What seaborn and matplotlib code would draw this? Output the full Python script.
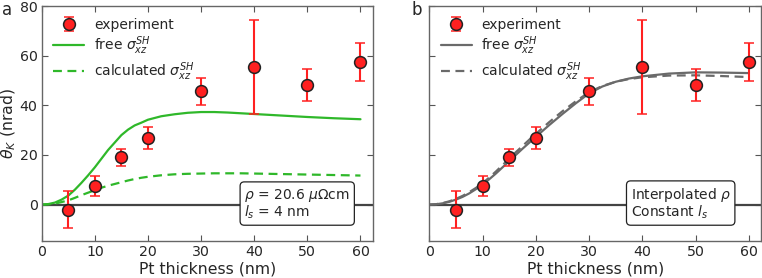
import numpy as np
import pandas as pd
import matplotlib
matplotlib.use("Agg")
import matplotlib.pyplot as plt
import seaborn as sns

# Experimental data
thickness = [5, 10, 15, 20, 30, 40, 50, 60]
theta_k = [-2.0, 7.5, 19.0, 26.8, 45.6, 55.6, 48.1, 57.5]
theta_err = [7.5, 3.9, 3.5, 4.3, 5.5, 19.0, 6.4, 7.5]

# Model curves
curve_x = [0, 1.25, 2.5, 3.75, 5, 6.25, 7.5, 8.75, 10, 11.25, 12.5, 13.75, 15,
           16.25, 17.5, 18.75, 20, 22.5, 25, 27.5, 30, 32.5, 35, 37.5, 40,
           45, 50, 55, 60]
a_free = [0, 0.2, 0.8, 2.0, 3.6, 6.0, 8.8, 11.8, 15.0, 18.5, 22.0, 25.0, 28.0,
          30.2, 31.9, 33.0, 34.2, 35.6, 36.4, 37.0, 37.3, 37.3, 37.1, 36.8, 36.5,
          35.9, 35.3, 34.8, 34.4]
a_calc = [0, 0.1, 0.4, 1.0, 1.7, 2.7, 3.8, 4.8, 5.8, 6.8, 7.6, 8.3, 9.0,
          9.7, 10.3, 10.8, 11.2, 11.8, 12.2, 12.4, 12.5, 12.6, 12.6, 12.6, 12.5,
          12.3, 12.1, 11.9, 11.7]
b_free = [0, 0.1, 0.5, 1.1, 2.0, 3.1, 4.5, 6.2, 8.0, 10.2, 12.5, 15.0, 17.5,
          20.0, 22.5, 24.9, 27.3, 32.0, 36.5, 40.8, 44.8, 47.6, 49.5, 50.8, 51.7,
          52.8, 53.3, 53.2, 53.0]
b_calc = [0, 0.15, 0.6, 1.3, 2.3, 3.5, 5.0, 6.7, 8.6, 10.9, 13.3, 15.9, 18.5,
          21.1, 23.6, 26.1, 28.5, 33.2, 37.6, 41.6, 45.3, 47.8, 49.5, 50.6, 51.3,
          52.0, 52.1, 51.8, 51.4]

xticks = [0, 10, 20, 30, 40, 50, 60]
yticks = [0, 20, 40, 60, 80]

sns.set_theme(style="white")
plt.rcParams['font.family'] = ['DejaVu Sans']
plt.rcParams['mathtext.fontset'] = 'dejavusans'

fig = plt.figure(figsize=(7.62, 2.78), dpi=100)
ax_a = fig.add_axes([0.0547, 0.133, 0.4344, 0.845])
ax_b = fig.add_axes([0.5634, 0.133, 0.4353, 0.845])

green = '#2fb82a'
gray = '#6a6a6a'

def panel(ax, free, calc, color, boxtext, boxpos, letter, letterx, ylabels):
    ax.axhline(0, color='#444444', lw=1.6, zorder=1)
    df = pd.DataFrame({'x': curve_x, 'free': free, 'calc': calc})
    sns.lineplot(data=df, x='x', y='free', ax=ax, color=color, lw=1.6,
                 label=r'free $\sigma_{xz}^{SH}$', zorder=2)
    sns.lineplot(data=df, x='x', y='calc', ax=ax, color=color, lw=1.6,
                 linestyle=(0, (4, 2.5)), label=r'calculated $\sigma_{xz}^{SH}$', zorder=2)
    ax.errorbar(thickness, theta_k, yerr=theta_err, fmt='o', color='#ff2020',
                ecolor='#ff2020', elinewidth=1.5, capsize=3.8, capthick=1.3,
                markersize=8.5, markeredgecolor='#222222', markeredgewidth=1.1,
                label='experiment', zorder=3)
    h, l = ax.get_legend_handles_labels()
    order = [l.index('experiment'), l.index(r'free $\sigma_{xz}^{SH}$'),
             l.index(r'calculated $\sigma_{xz}^{SH}$')]
    ax.legend([h[i] for i in order], [l[i] for i in order], loc='upper left',
              frameon=False, fontsize=10, handlelength=2.2, borderaxespad=0.45,
              labelspacing=0.2, handletextpad=0.7, bbox_to_anchor=(0.0, 1.0))
    ax.set_xlim(0, 62.3)
    ax.set_ylim(-14.7, 80)
    ax.set_xticks(xticks)
    ax.set_yticks(yticks)
    ax.set_xlabel('Pt thickness (nm)', fontsize=11.3, labelpad=2)
    if ylabels:
        ax.set_ylabel(r'$\theta_K$ (nrad)', fontsize=11.3, labelpad=1)
    else:
        ax.set_ylabel('')
        ax.set_yticklabels([])
    ax.tick_params(direction='in', length=4, width=0.8, color='#555555',
                   labelsize=10.2, top=True, right=True, bottom=True, left=True, pad=3)
    for sp in ax.spines.values():
        sp.set_color('#666666')
        sp.set_linewidth(1.0)
    ax.text(boxpos[0], boxpos[1], boxtext, transform=ax.transAxes, fontsize=10,
            ha='left', va='bottom', linespacing=1.0,
            bbox=dict(boxstyle='round,pad=0.3', fc='white', ec='#222222', lw=0.9))
    fig.text(letterx, 0.965, letter, fontsize=12, ha='left', va='center')

panel(ax_a, a_free, a_calc, green,
      "$\\rho$ = 20.6 $\\mu\\Omega$cm\n$l_s$ = 4 nm", (0.612, 0.085), 'a', 0.003, True)
panel(ax_b, b_free, b_calc, gray,
      "Interpolated $\\rho$\nConstant $l_s$", (0.607, 0.085), 'b', 0.54, False)

fig.savefig('out.png', dpi=100)
